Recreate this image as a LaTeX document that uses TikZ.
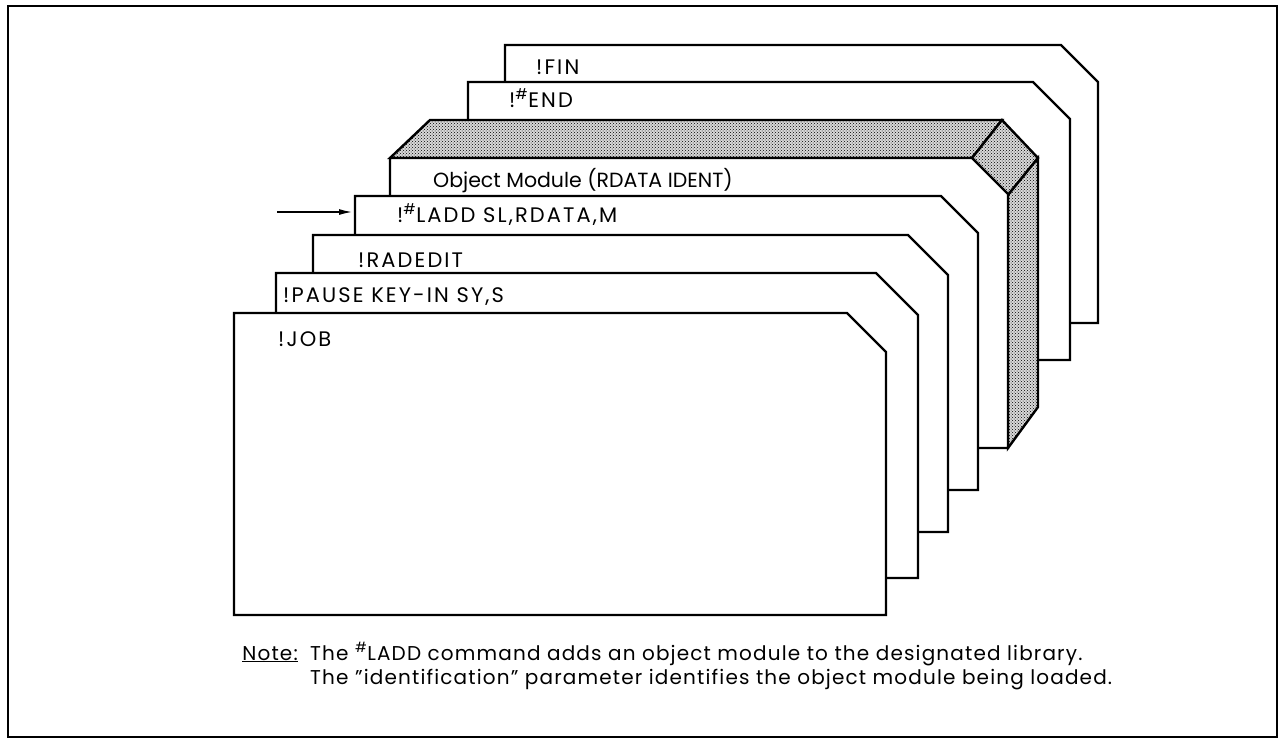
\documentclass[tikz,border=0pt]{standalone}
\usepackage{fontspec}
\setmainfont{Poppins}
\usetikzlibrary{patterns,arrows.meta}
\newcommand\cardpath[5]{\path[cardline] (#1,#2) -- ({#3-#5},#2) -- (#3,{#2+#5}) -- (#3,#4) -- (#1,#4) -- cycle;}
\newcommand\shp{\textsuperscript{\#}}
\begin{document}
\begin{tikzpicture}[x=1pt,y=-1pt,
  cardline/.style={draw=black,line width=2.4pt,line join=miter,fill=white},
  shadeface/.style={draw=black,line width=2.4pt,line join=miter,preaction={fill=black!15},pattern=crosshatch dots,pattern color=black},
  lbl/.style={anchor=base west,inner sep=0pt,font=\fontsize{21}{26}\selectfont\addfontfeature{LetterSpace=10}},
  lowlbl/.style={anchor=base west,inner sep=0pt,font=\fontsize{20.5}{26}\selectfont},
  notetxt/.style={anchor=base west,inner sep=0pt,font=\fontsize{20}{24}\selectfont\addfontfeature{LetterSpace=5.8}}]
\useasboundingbox (0,0) rectangle (1279,740);
\draw[line width=2.5pt] (8,6) rectangle (1277,737);
% cards, back to front
\cardpath{505}{45}{1098}{323}{37}
\cardpath{468}{82}{1070}{360}{37}
% shaded deck
\path[shadeface] (390,158) -- (430,120) -- (1002,120) -- (972,158) -- cycle;
\path[shadeface] (972,158) -- (1002,120) -- (1038,158) -- (1008,195) -- cycle;
\path[shadeface] (1008,195) -- (1038,158) -- (1038,407) -- (1008,448) -- cycle;
\cardpath{390}{158}{1008}{448}{36}
\cardpath{355}{196}{978}{490}{37}
\cardpath{313}{235}{948}{532}{40}
\cardpath{276}{273}{918}{578}{42}
\cardpath{234}{313}{886}{615}{39}
% labels
\node[lbl] (fin) at (536,74) {!FIN};
\node[lbl] (endc) at (509,107) {!\shp END};
\node[lowlbl] (obj) at (433,187) {Object Module (RDATA IDENT)};
\node[lbl] (ladd) at (397,222) {!\shp LADD SL,RDATA,M};
\node[lbl] (radedit) at (358,267) {!RADEDIT};
\node[lbl] (pause) at (283,302) {!PAUSE KEY-IN SY,S};
\node[lbl] (job) at (278,346) {!JOB};
% arrow
\coordinate (arrowtail) at (277,212);
\coordinate (laddin) at (352,212);
\draw[line width=1.2pt,-{Latex[length=13pt,width=6pt]}] (arrowtail) -- (laddin);
% note
\node[notetxt,anchor=base east] (notelabel) at (298,660) {\underline{Note:}};
\node[notetxt] (note1) at (310,660) {The \shp LADD command adds an object module to the designated library.};
\node[notetxt] (note2) at (310,684) {The "identification" parameter identifies the object module being loaded.};
\end{tikzpicture}
\end{document}
